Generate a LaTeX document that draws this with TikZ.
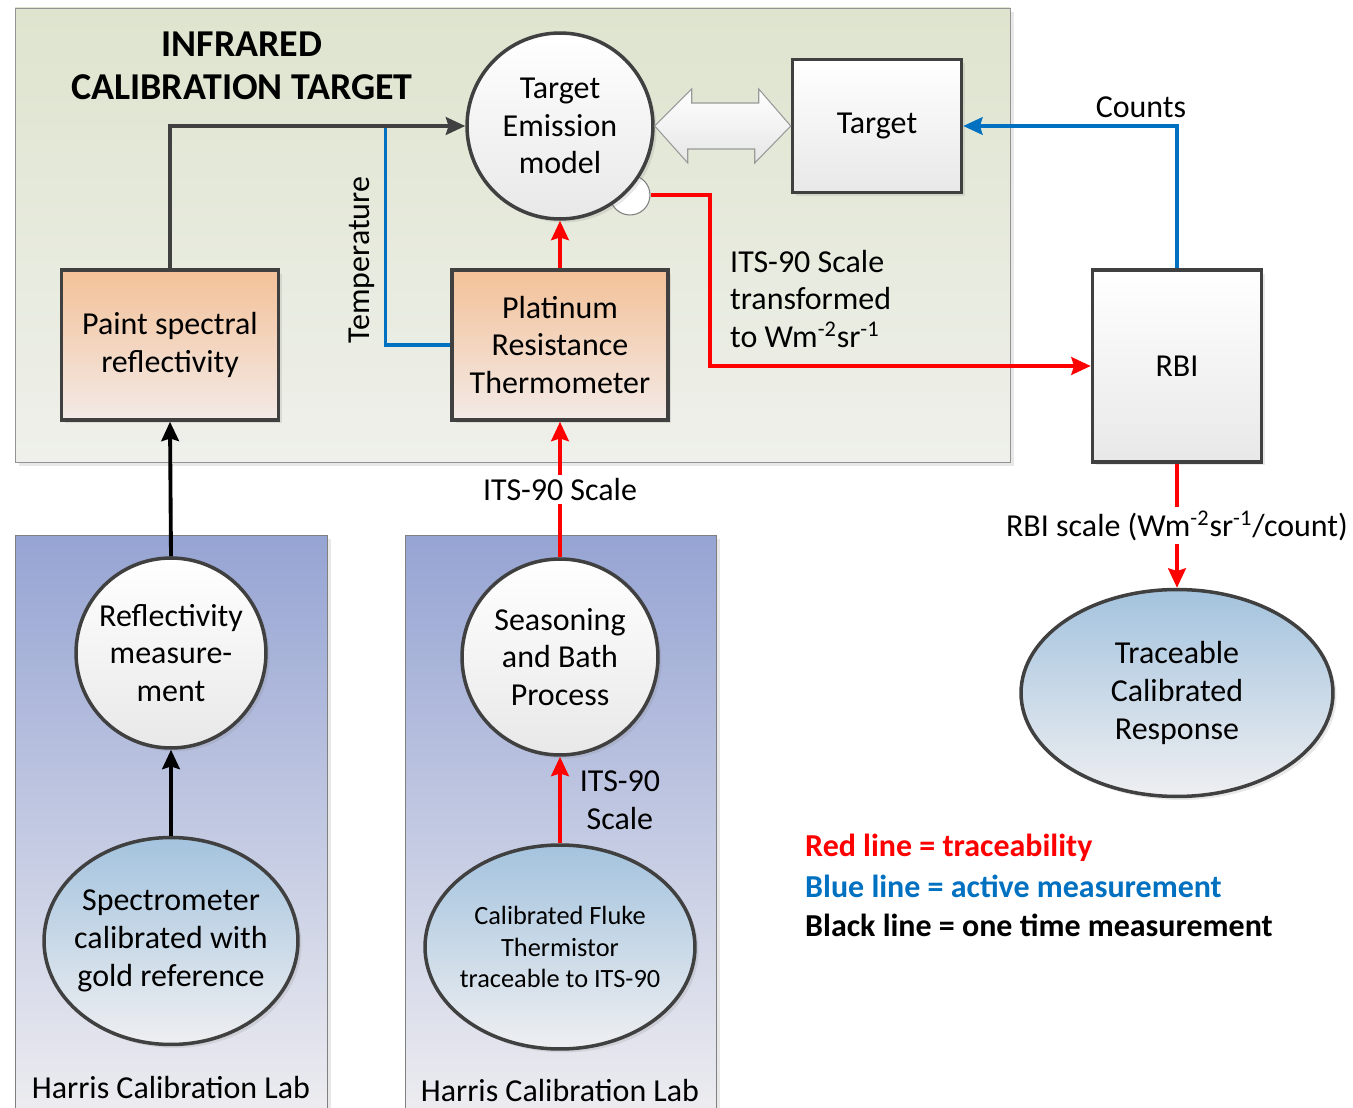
\documentclass[tikz,border=0pt]{standalone}
\usepackage{fontspec}
\setmainfont{Carlito}
\usetikzlibrary{calc}
\usetikzlibrary{arrows.meta}
\usetikzlibrary{shapes.geometric}
\usetikzlibrary{shadows}
\definecolor{tgtgreen}{RGB}{222,228,206}
\definecolor{tgtgreenlow}{RGB}{239,240,235}
\definecolor{labblue}{RGB}{150,164,211}
\definecolor{lablow}{RGB}{236,236,240}
\definecolor{paintorange}{RGB}{243,193,152}
\definecolor{paintlow}{RGB}{243,234,231}
\definecolor{ellblue}{RGB}{164,195,222}
\definecolor{ellblow}{RGB}{238,239,241}
\definecolor{tracered}{RGB}{255,0,0}
\definecolor{activeblue}{RGB}{0,112,192}
\definecolor{edgegray}{RGB}{64,64,64}
\tikzset{
  every node/.style = {font = \fontsize{18.2}{21.5}\selectfont}
}
\tikzset{
    >={Stealth[length=11pt, width=10pt, inset=1.5pt]}
}
\tikzset{
  soft shadow/.style = {drop shadow={opacity=0.18, shadow xshift=2pt, shadow yshift=-2pt}},
  model circle/.style = {circle, draw=edgegray, line width=2pt, top color=white,
    bottom color=black!9, inner sep=0pt, align=center, soft shadow},
  device box/.style = {rectangle, draw=edgegray, line width=2pt, top color=white,
    bottom color=black!9, inner sep=0pt, align=center, soft shadow},
  paint box/.style = {device box, top color=paintorange, bottom color=paintlow},
  reference ellipse/.style = {ellipse, draw=edgegray, line width=2pt, top color=ellblue,
    bottom color=ellblow, inner xsep=-5pt, inner ysep=0pt, align=center, soft shadow},
  trace line/.style = {->, draw=tracered, line width=2.2pt},
  active line/.style = {->, draw=activeblue, line width=1.8pt},
  once line/.style = {->, draw=black, line width=2.2pt},
  lab area/.style = {top color=labblue, bottom color=lablow},
  legend text/.style = {anchor=west, font=\bfseries\fontsize{18.2}{21.5}\selectfont}
}

\begin{document}
\begin{tikzpicture}[x=0.02cm, y=-0.02cm]
  \useasboundingbox (0,0) rectangle (1353,1108);

  % target enclosure and labs
  \draw[draw=gray!85, top color=tgtgreen, bottom color=tgtgreenlow, soft shadow]
    (15,8) rectangle (1010,462);
  \fill[lab area, soft shadow] (15,535) rectangle (327,1108);
  \draw[gray] (15,1108) |- (327,535) -- (327,1108);
  \fill[lab area, soft shadow] (405,535) rectangle (716,1108);
  \draw[gray] (405,1108) |- (716,535) -- (716,1108);

  \node[font=\bfseries\fontsize{21.6}{24.4}\selectfont, align=center] (title) at (242,66)
    {INFRARED\\CALIBRATION TARGET};

  \node[circle, draw=gray, line width=0.6pt, fill=white, minimum size=0.8cm, inner sep=0pt]
    (bump) at (630,195) {};
  \node[model circle, minimum size=3.72cm] (em) at (560,126) {Target\\Emission\\model};
  \node[device box, minimum width=3.38cm, minimum height=2.66cm] (tg) at (877,126) {Target};
  \node[device box, minimum width=3.38cm, minimum height=3.84cm] (rbi) at (1177,366) {RBI};
  \node[paint box, minimum width=4.34cm, minimum height=3cm] (paint) at (170,345)
    {Paint spectral\\reflectivity};
  \node[paint box, minimum width=4.32cm, minimum height=3cm] (prt) at (560,345)
    {Platinum\\Resistance\\Thermometer};

  \node[model circle, minimum size=3.8cm] (refl) at (171,653) {Reflectivity\\measure-\\ment};
  \node[reference ellipse, minimum width=5.08cm, minimum height=4.14cm] (spec) at (171,941)
    {Spectrometer\\calibrated with\\gold reference};
  \node[model circle, minimum size=3.92cm] (seas) at (560,657) {Seasoning\\and Bath\\Process};
  \node[reference ellipse, minimum width=5.4cm, minimum height=4.08cm,
    font=\fontsize{15}{18}\selectfont] (fluke) at (560,947)
    {Calibrated Fluke\\Thermistor\\traceable to ITS-90};
  \node[reference ellipse, minimum width=6.24cm, minimum height=4.14cm] (trace) at (1177,693)
    {Traceable\\Calibrated\\Response};

  \node (lableft) at (171,1088) {Harris Calibration Lab};
  \node (labright) at (560,1091) {Harris Calibration Lab};

  % exchange between model and target
  \draw[draw=gray!80, line width=0.6pt, top color=white, bottom color=black!10]
    (em.east) -- ++(37,-37) -- ++(0,14) -- ++(67,0) -- ++(0,-14) -- (tg.west)
    -- ++(-36,37) -- ++(0,-14) -- ++(-67,0) -- ++(0,14) -- cycle;

  \draw[active line, -] (prt.west) -| ($(em.west)+(-80,0)$);
  \node[rotate=90] (temp) at (362,260) {Temperature};
  \draw[once line, draw=edgegray] (paint.north) |- (em.west);
  \draw[trace line] (prt.north) -- (em.south);
  \draw[trace line] (bump.east) -| ($(rbi.west)+(-381,0)$) -- (rbi.west);
  \node[anchor=west, align=left] (xfm) at (724,299)
    {ITS-90 Scale\\transformed\\to Wm\textsuperscript{-2}sr\textsuperscript{-1}};
  \draw[active line] (rbi.north) |- (tg.east);
  \node (counts) at (1141,107) {Counts};

  \draw[trace line] (seas.north) -- node[fill=white, inner sep=2pt] (its) {ITS-90 Scale} (prt.south);
  \draw[trace line] (rbi.south) -- node[fill=white, inner sep=2pt] (rbiscale)
    {RBI scale (Wm\textsuperscript{-2}sr\textsuperscript{-1}/count)} (trace.north);
  \draw[trace line] (fluke.north) -- node[anchor=west, align=center, xshift=0.24cm] (itsb)
    {ITS-90\\Scale} (seas.south);
  \draw[once line] (refl.north) -- (paint.south);
  \draw[once line] (spec.north) -- (refl.south);

  \node[legend text, text=tracered] (legred) at (799,848) {Red line = traceability};
  \node[legend text, text=activeblue] (legblue) at (799,886) {Blue line = active measurement};
  \node[legend text, text=black] (legblack) at (799,925) {Black line = one time measurement};
\end{tikzpicture}
\end{document}
